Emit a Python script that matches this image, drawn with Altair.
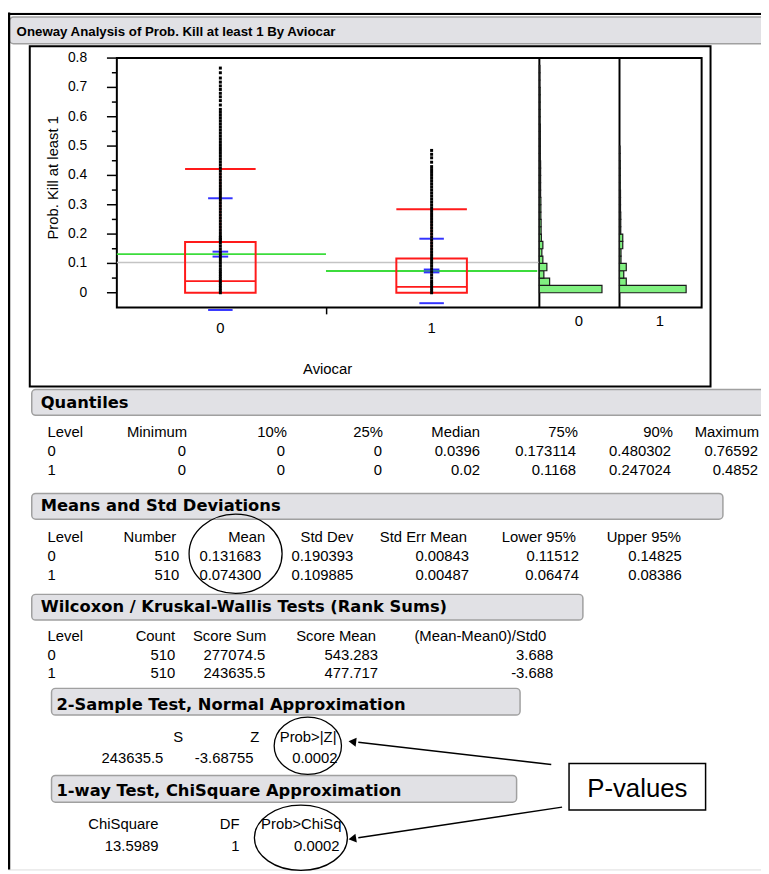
import altair as alt
import pandas as pd

# ---------------- values ----------------
levels = ["0", "1"]
level_index = [0, 1]
q1 = [0.0, 0.0]
median = [0.0396, 0.02]
q3 = [0.173114, 0.1168]
whisker_top = [0.422, 0.285]
mean = [0.131683, 0.074300]
std_dev = [0.190393, 0.109885]
std_err = [0.00843, 0.00487]
grand_mean = [0.103]

dots_0 = [0.0, 0.008, 0.016, 0.024, 0.032, 0.04, 0.048, 0.056, 0.064, 0.072, 0.08, 0.09,
          0.1, 0.11, 0.12, 0.13, 0.14, 0.15, 0.16, 0.17, 0.178, 0.183, 0.188, 0.195, 0.205,
          0.215, 0.225, 0.235, 0.245, 0.255, 0.265, 0.275, 0.285, 0.295, 0.305, 0.315, 0.325,
          0.335, 0.345, 0.355, 0.365, 0.375, 0.385, 0.395, 0.405, 0.415, 0.425, 0.435, 0.445,
          0.455, 0.465, 0.475, 0.485, 0.495, 0.505, 0.515, 0.525, 0.535, 0.545, 0.555, 0.565,
          0.575, 0.585, 0.595, 0.605, 0.615, 0.625, 0.64, 0.655, 0.668, 0.68, 0.693, 0.705,
          0.718, 0.732, 0.75, 0.76592]
dots_1 = [0.0, 0.008, 0.016, 0.024, 0.032, 0.04, 0.05, 0.06, 0.07, 0.08, 0.09, 0.1, 0.11,
          0.12, 0.13, 0.14, 0.15, 0.16, 0.17, 0.18, 0.19, 0.2, 0.21, 0.22, 0.23, 0.24, 0.25,
          0.26, 0.27, 0.28, 0.29, 0.3, 0.31, 0.32, 0.33, 0.34, 0.35, 0.36, 0.37, 0.38, 0.39,
          0.4, 0.41, 0.42, 0.43, 0.445, 0.46, 0.472, 0.4852]

hist_lo_0 = [0.0, 0.025, 0.05, 0.075, 0.1, 0.125, 0.15, 0.175, 0.2, 0.225, 0.25, 0.275, 0.3,
             0.325, 0.35, 0.375, 0.4, 0.425, 0.45, 0.475, 0.5, 0.525, 0.55, 0.575, 0.6, 0.625,
             0.65, 0.675, 0.7, 0.725, 0.75]
hist_n_0 = [250, 41, 18, 30, 14, 10, 14, 8, 7, 7, 6, 6, 6, 5, 5, 5, 5, 5, 4, 4, 4, 4, 4, 3, 3,
            3, 3, 3, 2, 2, 2]
hist_lo_1 = [0.0, 0.025, 0.05, 0.075, 0.1, 0.125, 0.15, 0.175, 0.2, 0.225, 0.25, 0.275, 0.3,
             0.325, 0.35, 0.375, 0.4, 0.425, 0.45, 0.475]
hist_n_1 = [266, 27, 17, 27, 6, 6, 13, 13, 5, 5, 5, 4, 4, 4, 3, 3, 3, 3, 2, 2]

y_ticks = [0, 0.1, 0.2, 0.3, 0.4, 0.5, 0.6, 0.7, 0.8]
y_tick_labels = ["0", "0.1", "0.2", "0.3", "0.4", "0.5", "0.6", "0.7", "0.8"]
y_minor = [0.05, 0.15, 0.25, 0.35, 0.45, 0.55, 0.65, 0.75]

title = "Oneway Analysis of Prob. Kill at least 1 By Aviocar"
y_title = "Prob. Kill at least 1"
x_title = "Aviocar"

quant_title = "Quantiles"
quant_cols = ["Level", "Minimum", "10%", "25%", "Median", "75%", "90%", "Maximum"]
quant_rows = [["0", "0", "0", "0", "0.0396", "0.173114", "0.480302", "0.76592"],
              ["1", "0", "0", "0", "0.02", "0.1168", "0.247024", "0.4852"]]

means_title = "Means and Std Deviations"
means_cols = ["Level", "Number", "Mean", "Std Dev", "Std Err Mean", "Lower 95%", "Upper 95%"]
means_rows = [["0", "510", "0.131683", "0.190393", "0.00843", "0.11512", "0.14825"],
              ["1", "510", "0.074300", "0.109885", "0.00487", "0.06474", "0.08386"]]

wil_title = "Wilcoxon / Kruskal-Wallis Tests (Rank Sums)"
wil_cols = ["Level", "Count", "Score Sum", "Score Mean", "(Mean-Mean0)/Std0"]
wil_rows = [["0", "510", "277074.5", "543.283", "3.688"],
            ["1", "510", "243635.5", "477.717", "-3.688"]]

two_title = "2-Sample Test, Normal Approximation"
two_cols = ["S", "Z", "Prob>|Z|"]
two_rows = [["243635.5", "-3.68755", "0.0002"]]

chi_title = "1-way Test, ChiSquare Approximation"
chi_cols = ["ChiSquare", "DF", "Prob>ChiSq"]
chi_rows = [["13.5989", "1", "0.0002"]]

callout = "P-values"

# ---------------- layout (page pixel positions) ----------------
BODY = "Liberation Sans"
HEAD = "DejaVu Sans"
RED, BLUE, GREEN = "#ff1a1a", "#3333ff", "#3cdc3c"

PXS = alt.Scale(domain=[8, 769], range=[0, 761], nice=False, zero=False)
PYS = alt.Scale(domain=[8, 874], range=[0, 866], nice=False, zero=False)


def px(f):
    return alt.X(f, type="quantitative", scale=PXS, axis=None)


def py(f):
    return alt.Y(f, type="quantitative", scale=PYS, axis=None)


LEVEL_X = 48
tables = [
    (quant_title, 41, 408, quant_cols, quant_rows, 437, [456, 475],
     [189, 290, 387, 485, 584, 680, 767], [188, 288, 386, 485, 582, 678, 766], True),
    (means_title, 41, 512, means_cols, means_rows, 543, [562, 581],
     [178, 268, 357, 472, 582, 688], [181, 264, 357, 474, 585, 689], True),
    (wil_title, 41, 614, wil_cols, wil_rows, 643, [662, 681],
     [177, 269, 380, 552], [177, 268, 382, 559], True),
    (two_title, 57, 713, two_cols, two_rows, 745, [766],
     [185, 262, 340], [165, 256, 341], False),
    (chi_title, 57, 800, chi_cols, chi_rows, 833, [855],
     [160, 242, 345], [160, 242, 343], False),
]

left_txt, right_txt, bold_txt = [], [], []
for (tt, tx, tb, cols, rows, hb, rbs, hr, vr, has_level) in tables:
    bold_txt.append({"x": tx, "y": tb, "t": tt})
    c = cols
    if has_level:
        left_txt.append({"x": LEVEL_X, "y": hb, "t": cols[0]})
        c = cols[1:]
    for name, r in zip(c, hr):
        right_txt.append({"x": r, "y": hb, "t": name})
    for row, rb in zip(rows, rbs):
        vals = row
        if has_level:
            left_txt.append({"x": LEVEL_X, "y": rb, "t": row[0]})
            vals = row[1:]
        for v, r in zip(vals, vr):
            right_txt.append({"x": r, "y": rb, "t": v})

header_boxes = pd.DataFrame({
    "x": [9.5, 32, 32, 32, 52, 52],
    "x2": [790, 790, 730.5, 589, 525.5, 522],
    "y": [12.5, 389, 494, 596, 691, 779],
    "y2": [39.5, 415, 520, 622, 718, 806],
})
frames = pd.DataFrame({"x": [30, 118], "x2": [718, 709], "y": [42, 54], "y2": [386, 306]})
rules = pd.DataFrame({
    "x": [9, 8, 545, 626, 330, 557, 568],
    "x2": [9, 769, 545, 626, 330, 362, 362],
    "y": [8, 9.5, 54, 54, 306, 768, 811],
    "y2": [874, 9.5, 306, 306, 313, 745.5, 842],
    "w": [2.5, 2, 2, 2, 1.5, 1.5, 1.5],
})

bg = alt.layer(
    alt.Chart(header_boxes).mark_rect(fill="#e1e1e5", stroke="#a0a0a0", strokeWidth=1.5,
                                      cornerRadius=4).encode(
        x=px("x"), x2="x2", y=py("y"), y2="y2"),
    alt.Chart(frames).mark_rect(fillOpacity=0, stroke="black", strokeWidth=2).encode(
        x=px("x"), x2="x2", y=py("y"), y2="y2"),
    alt.Chart(rules).mark_rule(color="black").encode(
        x=px("x"), x2="x2", y=py("y"), y2="y2",
        strokeWidth=alt.StrokeWidth("w:Q", scale=None)),
)

# ---------------- box-plot panel ----------------
BX = alt.Scale(domain=[-0.49, 1.51], range=[110, 537], nice=False, zero=False, clamp=True)
BY = alt.Scale(domain=[-0.05, 0.8], range=[298, 46], nice=False, zero=False)


def bx(f):
    return alt.X(f, type="quantitative", scale=BX, axis=None)


def by(f):
    return alt.Y(f, type="quantitative", scale=BY, axis=None)


grp = pd.DataFrame({"lvl": level_index, "label": levels, "q1": q1, "med": median, "q3": q3,
                    "wt": whisker_top, "mean": mean, "sd": std_dev, "se": std_err})
gm = pd.DataFrame({"g": grand_mean})

red_h = pd.DataFrame({"lvl": level_index * 2, "v": median + whisker_top})
blue_rows = []
for l, m, s, e in zip(level_index, mean, std_dev, std_err):
    blue_rows += [{"lvl": l, "v": m + s, "h": 0.058}, {"lvl": l, "v": m - s, "h": 0.058},
                  {"lvl": l, "v": m + e, "h": 0.037}, {"lvl": l, "v": m - e, "h": 0.037}]
blue_h = pd.DataFrame(blue_rows)
dots = pd.DataFrame({"lvl": [0] * len(dots_0) + [1] * len(dots_1), "v": dots_0 + dots_1})
minor = pd.DataFrame({"v": y_minor})
major = pd.DataFrame({"v": y_ticks, "t": y_tick_labels})

box = alt.layer(
    alt.Chart(gm).mark_rule(color="#c4c4c4", strokeWidth=1.5)
    .transform_calculate(xa="-0.49", xb="1.51")
    .encode(x=bx("xa"), x2="xb", y=by("g")),
    alt.Chart(grp).mark_rule(color=GREEN, strokeWidth=2)
    .transform_calculate(xa="datum.lvl - 0.5", xb="datum.lvl + 0.5")
    .encode(x=bx("xa"), x2="xb", y=by("mean")),
    alt.Chart(grp).mark_rule(color=RED, strokeWidth=1.5)
    .encode(x=bx("lvl"), y=by("q3"), y2="wt"),
    alt.Chart(grp).mark_rect(fillOpacity=0, stroke=RED, strokeWidth=2)
    .transform_calculate(xa="datum.lvl - 0.167", xb="datum.lvl + 0.167")
    .encode(x=bx("xa"), x2="xb", y=by("q1"), y2="q3"),
    alt.Chart(red_h).mark_rule(color=RED, strokeWidth=2)
    .transform_calculate(xa="datum.lvl - 0.167", xb="datum.lvl + 0.167")
    .encode(x=bx("xa"), x2="xb", y=by("v")),
    alt.Chart(blue_h).mark_rule(color=BLUE, strokeWidth=2)
    .transform_calculate(xa="datum.lvl - datum.h", xb="datum.lvl + datum.h")
    .encode(x=bx("xa"), x2="xb", y=by("v")),
    alt.Chart(grp).mark_rule(color=BLUE, strokeWidth=2)
    .transform_calculate(lo="datum.mean - datum.se", hi="datum.mean + datum.se")
    .encode(x=bx("lvl"), y=by("lo"), y2="hi"),
    alt.Chart(dots).mark_square(size=9, color="black", opacity=1)
    .encode(x=bx("lvl"), y=by("v")),
    # y axis: major ticks + labels, minor ticks
    alt.Chart(major).mark_rule(color="black", strokeWidth=1.5)
    .encode(x=alt.value(100), x2=alt.value(110), y=by("v")),
    alt.Chart(major).mark_text(font=BODY, fontSize=14, color="black", align="right",
                               baseline="middle")
    .encode(x=alt.value(80), y=by("v"), text="t:N"),
    alt.Chart(minor).mark_rule(color="black", strokeWidth=1.5)
    .encode(x=alt.value(105), x2=alt.value(110), y=by("v")),
    alt.Chart(grp).mark_text(font=BODY, fontSize=15, color="black", baseline="alphabetic",
                             align="center")
    .encode(x=bx("lvl"), y=alt.value(323.5), text="label:N"),
)

# ---------------- histogram panels ----------------
def hist_panel(lo, n, rng):
    HX = alt.Scale(domain=[0, 320], range=rng, nice=False, zero=False)
    HY = alt.Scale(domain=[-0.05, 0.8], range=[298, 46], nice=False, zero=False)
    df = pd.DataFrame({"lo": lo, "n": n})
    return alt.layer(
        alt.Chart(df).mark_rect(fill="#80f080", stroke="#1a1a1a", strokeWidth=1.2)
        .transform_calculate(hi="datum.lo + 0.025", z="0")
        .encode(x=alt.X("z", type="quantitative", scale=HX, axis=None), x2="n",
                y=alt.Y("lo", type="quantitative", scale=HY, axis=None), y2="hi")
    )


hist0 = hist_panel(hist_lo_0, hist_n_0, [537, 618])
hist1 = hist_panel(hist_lo_1, hist_n_1, [618, 699])

# ---------------- foreground annotations ----------------
def ellipse_path(rx, ry):
    R = max(rx, ry)
    a, b, k = rx / R, ry / R, 0.5523
    f = lambda v: f"{v:.4f}"
    return (f"M {f(a)} 0 C {f(a)} {f(k*b)} {f(k*a)} {f(b)} 0 {f(b)} "
            f"C {f(-k*a)} {f(b)} {f(-a)} {f(k*b)} {f(-a)} 0 "
            f"C {f(-a)} {f(-k*b)} {f(-k*a)} {f(-b)} 0 {f(-b)} "
            f"C {f(k*a)} {f(-b)} {f(a)} {f(-k*b)} {f(a)} 0 Z"), (2 * R) ** 2


ell = []
for cx, cy, rx, ry in [(238, 555, 47, 40), (311, 749, 34, 29), (304, 842, 47, 33)]:
    p, s = ellipse_path(rx, ry)
    ell.append({"x": cx, "y": cy, "shape": p, "size": s})
ellipses = pd.DataFrame(ell)

heads = pd.DataFrame({"x": [356, 356], "y": [745.0, 842.9], "ang": [6.5, 350.8]})
callout_box = pd.DataFrame({"x": [575], "x2": [713], "y": [767], "y2": [814]})

misc_center = pd.DataFrame({
    "x": [585, 666.7, 331],
    "y": [325, 325, 373],
    "t": ["0", "1", x_title],
})


def text_layer(rows, align, font, size, weight="normal", angle=0, baseline="alphabetic"):
    return alt.Chart(pd.DataFrame(rows)).mark_text(
        align=align, baseline=baseline, font=font, fontSize=size, fontWeight=weight,
        color="black", angle=angle).encode(x=px("x"), y=py("y"), text="t:N")


fg = alt.layer(
    text_layer([{"x": 16.7, "y": 31.5, "t": title}], "left", BODY, 13.4, "bold"),
    text_layer(bold_txt, "left", HEAD, 16.5, "bold"),
    text_layer(left_txt, "left", BODY, 15),
    text_layer(right_txt, "right", BODY, 15),
    text_layer(misc_center.to_dict("records"), "center", BODY, 15),
    text_layer([{"x": 53.3, "y": 175, "t": y_title}], "center", BODY, 15, angle=270,
               baseline="middle"),
    alt.Chart(ellipses).mark_point(filled=False, stroke="black", strokeWidth=1.3, opacity=1)
    .encode(x=px("x"), y=py("y"), shape=alt.Shape("shape:N", scale=None),
            size=alt.Size("size:Q", scale=None)),
    alt.Chart(heads).mark_point(shape="triangle-left", filled=True, color="black", size=80,
                                opacity=1)
    .encode(x=px("x"), y=py("y"), angle=alt.Angle("ang:Q", scale=None)),
    alt.Chart(callout_box).mark_rect(fill="white", stroke="black", strokeWidth=1.5)
    .encode(x=px("x"), x2="x2", y=py("y"), y2="y2"),
    text_layer([{"x": 644, "y": 801, "t": callout}], "center", BODY, 26),
)

chart = (
    alt.layer(bg, box, hist0, hist1, fg)
    .resolve_scale(x="independent", y="independent")
    .properties(width=761, height=866, padding=0,
                autosize=alt.AutoSizeParams(type="none"))
    .configure_view(stroke=None)
    .configure(background="white")
)

chart.save("out.html", embed_options={"renderer": "svg", "actions": False})
